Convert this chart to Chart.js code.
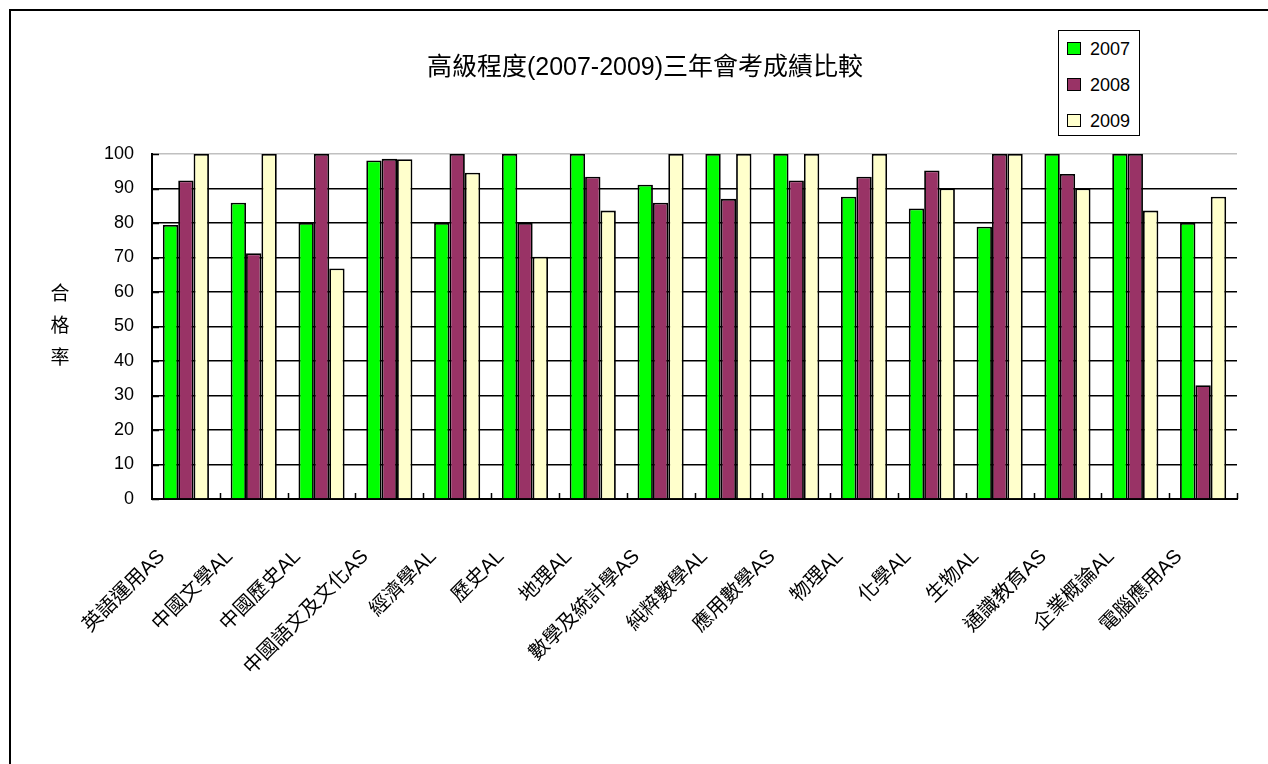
<!DOCTYPE html>
<html>
<head>
<meta charset="utf-8">
<script src="https://cdn.jsdelivr.net/npm/chart.js@4.4.1/dist/chart.umd.min.js"></script>
<style>
  html, body { margin: 0; padding: 0; background: #fff; }
  #wrap { position: relative; width: 1268px; height: 764px; overflow: hidden; }
  #frame { position: absolute; left: 9px; top: 9px; width: 1300px; height: 800px; border: 2px solid #000; }
  #chart { position: absolute; left: 0; top: 0; }
  #legendBox {
    position: absolute; left: 1058px; top: 30px; width: 80px; height: 104px;
    border: 1.5px solid #000; background: #fff;
    font-family: "Liberation Sans", Arial, sans-serif; font-size: 18px; color: #000;
  }
  .lg-item { position: absolute; left: 8px; height: 20px; line-height: 20px; }
  .lg-sw { display: inline-block; width: 12px; height: 11px; border: 1.5px solid #000; vertical-align: middle; margin-right: 9px; margin-top: -3px; }
</style>
</head>
<body>
<div id="wrap">
  <div id="frame"></div>
  <canvas id="chart" width="1268" height="764"></canvas>
  <div id="legendBox"></div>
</div>
<script>
// 科目
const subjects = [
  '英語運用AS', '中國文學AL', '中國歷史AL', '中國語文及文化AS', '經濟學AL', '歷史AL',
  '地理AL', '數學及統計學AS', '純粹數學AL', '應用數學AS', '物理AL', '化學AL',
  '生物AL', '通識教育AS', '企業概論AL', '電腦應用AS'
];

// 合格率 (%)
const pass2007 = [79.4, 85.9, 80, 98.1, 80, 100, 100, 91.1, 100, 100, 87.6, 84.2, 78.9, 100, 100, 80];
const pass2008 = [92.3, 71.2, 100, 98.6, 100, 80, 93.4, 85.9, 87, 92.3, 93.4, 95.2, 100, 94.2, 100, 33];
const pass2009 = [100, 100, 66.8, 98.5, 94.6, 70.2, 83.6, 100, 100, 100, 100, 90, 100, 90, 83.6, 87.6];

const yearLabels = ['2007', '2008', '2009'];
const yearColors = ['#00FF00', '#993366', '#FFFFCC'];
const yTicks = [0, 10, 20, 30, 40, 50, 60, 70, 80, 90, 100];

const FONT = '"Liberation Sans", "Noto Sans CJK TC", sans-serif';

// 縱軸標題 (直排) 及刻度線
const axisExtras = {
  id: 'axisExtras',
  afterDraw(chart) {
    const { ctx, chartArea } = chart;
    const xs = chart.scales.x;
    const ys = chart.scales.y;
    ctx.save();
    ctx.strokeStyle = '#000';
    ctx.lineWidth = 1.5;
    ctx.beginPath();
    yTicks.forEach(v => {
      const py = Math.round(ys.getPixelForValue(v)) + 0.5;
      ctx.moveTo(chartArea.left, py);
      ctx.lineTo(chartArea.left + 7, py);
    });
    for (let i = 0; i < subjects.length; i++) {
      const px = i < subjects.length - 1
        ? (xs.getPixelForValue(i) + xs.getPixelForValue(i + 1)) / 2
        : chartArea.right;
      ctx.moveTo(Math.round(px) + 0.5, chartArea.bottom);
      ctx.lineTo(Math.round(px) + 0.5, chartArea.bottom - 6);
    }
    ctx.stroke();

    ctx.fillStyle = '#000';
    ctx.font = '19px "Noto Sans CJK TC", sans-serif';
    ctx.textAlign = 'center';
    ctx.textBaseline = 'middle';
    const cy = (chartArea.top + chartArea.bottom) / 2;
    ['合', '格', '率'].forEach((ch, i) => {
      ctx.fillText(ch, 60, cy - 2 + (i - 1) * 32);
    });
    ctx.restore();
  }
};

const ctx = document.getElementById('chart').getContext('2d');
const chart = new Chart(ctx, {
  type: 'bar',
  data: {
    labels: subjects,
    datasets: [pass2007, pass2008, pass2009].map((vals, i) => ({
      label: yearLabels[i],
      data: vals,
      backgroundColor: yearColors[i],
      borderColor: '#000',
      borderWidth: 1.8,
      categoryPercentage: 0.68,
      barPercentage: 1.0
    }))
  },
  options: {
    responsive: false,
    animation: false,
    devicePixelRatio: 1,
    layout: { padding: { left: 53, right: 31, top: 0, bottom: 0 } },
    plugins: {
      legend: { display: false },
      tooltip: { enabled: false },
      title: {
        display: true,
        text: '高級程度(2007-2009)三年會考成績比較',
        color: '#000',
        font: { family: FONT, size: 25, weight: 'normal', lineHeight: 1.2 },
        padding: { top: 53, bottom: 71 }
      }
    },
    scales: {
      x: {
        grid: { display: false, drawTicks: false },
        border: { color: '#000', width: 2 },
        ticks: {
          color: '#000',
          font: { family: FONT, size: 20 },
          maxRotation: 45,
          minRotation: 45,
          autoSkip: false,
          padding: 46,
          labelOffset: -24
        },
        afterFit(scale) { scale.height = 265; }
      },
      y: {
        min: 0,
        max: 100,
        grid: {
          drawTicks: false,
          color: (c) => c.tick && c.tick.value === 100 ? '#c0c0c0' : '#000',
          lineWidth: 1.5
        },
        border: { color: '#000', width: 2 },
        ticks: {
          stepSize: 10,
          color: '#000',
          font: { family: FONT, size: 18 },
          padding: 18
        },
        afterFit(scale) { scale.width = 99; }
      }
    }
  },
  plugins: [axisExtras]
});

// 圖例
const legendBox = document.getElementById('legendBox');
legendBox.innerHTML = chart.data.datasets.map((ds, i) => `
  <div class="lg-item" style="top:${8 + i * 36}px">
    <span class="lg-sw" style="background:${ds.backgroundColor}"></span>${ds.label}
  </div>`).join('');
</script>
</body>
</html>
